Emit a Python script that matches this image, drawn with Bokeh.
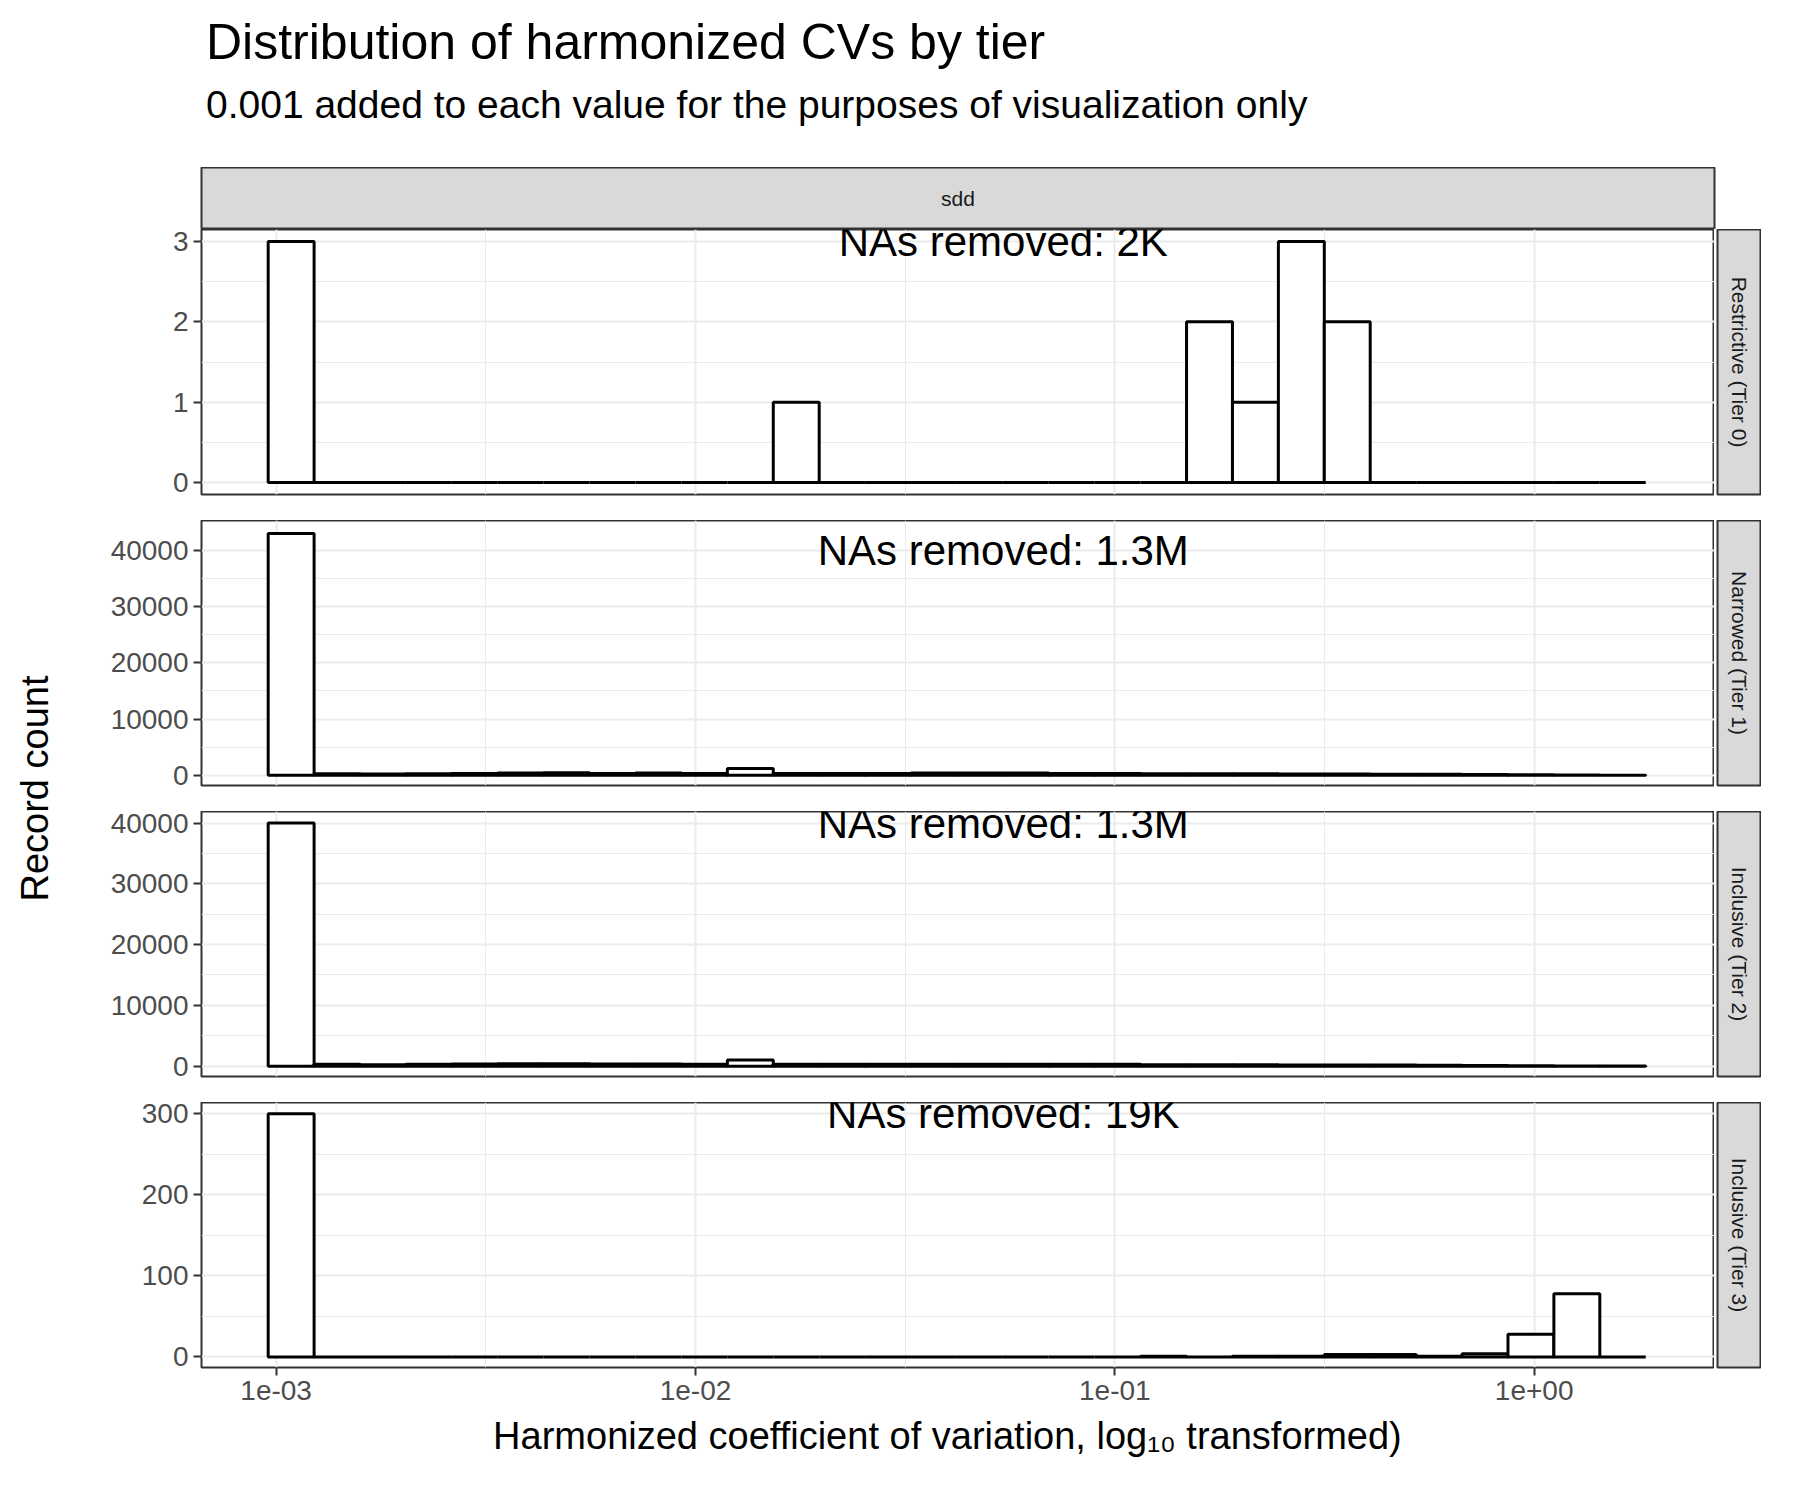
import numpy as np
from bokeh.plotting import figure
from bokeh.layouts import column, row
from bokeh.models import Range1d, FixedTicker, Label, Div
from bokeh.core.properties import value
from bokeh.embed import file_html
from bokeh.resources import INLINE

FONT = "Liberation Sans"

# log10 bin edges of the histogram (30 bins)
bin_start = -3.019
bin_width = 0.1095
n_bins = 30

tiers = ["Restrictive (Tier 0)", "Narrowed (Tier 1)", "Inclusive (Tier 2)", "Inclusive (Tier 3)"]
na_labels = ["NAs removed: 2K", "NAs removed: 1.3M", "NAs removed: 1.3M", "NAs removed: 19K"]
label_y = [3, 40000, 40000, 300]

counts_t0 = [3, 0, 0, 0, 0, 0, 0, 0, 0, 0, 0, 1, 0, 0, 0, 0, 0, 0, 0, 0,
             2, 1, 3, 2, 0, 0, 0, 0, 0, 0]
counts_t1 = [43000, 300, 250, 300, 350, 400, 450, 350, 400, 350, 1200, 350, 350, 350, 400, 400,
             400, 350, 350, 300, 300, 300, 250, 250, 200, 200, 150, 100, 50, 20]
counts_t2 = [40000, 300, 250, 300, 350, 400, 400, 350, 350, 300, 1000, 300, 300, 300, 300, 300,
             300, 300, 300, 250, 250, 250, 200, 200, 200, 150, 120, 80, 40, 20]
counts_t3 = [300, 0, 0, 0, 0, 0, 0, 0, 0, 0, 0, 0, 0, 0, 0, 0, 0, 0, 0, 1,
             0, 1, 1, 3, 3, 1, 4, 28, 78, 0]
all_counts = [counts_t0, counts_t1, counts_t2, counts_t3]

y_ranges = [(-0.15, 3.15), (-1800, 45300), (-1700, 41900), (-13, 314)]
y_ticks = [[0, 1, 2, 3], [0, 10000, 20000, 30000, 40000], [0, 10000, 20000, 30000, 40000], [0, 100, 200, 300]]
y_minor = [[0.5, 1.5, 2.5], [5000, 15000, 25000, 35000], [5000, 15000, 25000, 35000], [50, 150, 250]]

x_ticks = [1e-3, 1e-2, 1e-1, 1e0]
x_tick_labels = {1e-3: "1e-03", 1e-2: "1e-02", 1e-1: "1e-01", 1e0: "1e+00"}
x_minor = [10 ** -2.5, 10 ** -1.5, 10 ** -0.5, 10 ** 0.5]

FW, FH = 1513, 265
LEFT = 141
x_range = Range1d(10 ** -3.178, 10 ** 0.43)

edges = bin_start + bin_width * np.arange(n_bins + 1)
lefts = 10 ** edges[:-1]
rights = 10 ** edges[1:]

rows = []
# top strip
top = figure(frame_width=FW, frame_height=62, x_range=(0, 1), y_range=(0, 1),
             x_axis_location=None, y_axis_location=None, toolbar_location=None,
             output_backend="svg", min_border_left=LEFT, min_border_right=47,
             min_border_top=0, min_border_bottom=0)
top.background_fill_color = "#D9D9D9"
top.outline_line_color = "#333333"
top.outline_line_width = 2
top.grid.visible = False
top.text(x=[0.5], y=[0.5], text=["sdd"], text_align="center", text_baseline="middle",
         text_font=value(FONT), text_font_size="21px", text_color="#1A1A1A")
rows.append(top)

for i, tier in enumerate(tiers):
    last = i == len(tiers) - 1
    p = figure(frame_width=FW, frame_height=FH, x_axis_type="log", x_range=x_range,
               y_range=Range1d(*y_ranges[i]), toolbar_location=None, output_backend="svg",
               min_border_left=LEFT, min_border_right=0, min_border_top=0,
               min_border_bottom=10 if last else 26)
    p.quad(left=lefts, right=rights, bottom=0, top=all_counts[i],
           fill_color="white", line_color="black", line_width=3)
    p.add_layout(Label(x=10 ** -1.266, y=label_y[i], text=na_labels[i], text_align="center",
                       text_baseline="middle", text_font=FONT, text_font_size="42px",
                       text_color="black"))
    p.xaxis.ticker = FixedTicker(ticks=x_ticks, minor_ticks=x_minor)
    p.yaxis.ticker = FixedTicker(ticks=y_ticks[i], minor_ticks=y_minor[i])
    p.xaxis.major_label_overrides = x_tick_labels
    for ax in (p.xaxis, p.yaxis):
        ax.major_label_text_font = FONT
        ax.major_label_text_font_size = "28px"
        ax.major_label_text_color = "#4D4D4D"
        ax.major_tick_line_color = "#333333"
        ax.major_tick_line_width = 2
        ax.major_tick_out = 8
        ax.major_tick_in = 0
        ax.minor_tick_line_color = None
        ax.axis_line_color = None
    p.grid.grid_line_color = "#EBEBEB"
    p.grid.grid_line_width = 2
    p.grid.minor_grid_line_color = "#EBEBEB"
    p.grid.minor_grid_line_width = 1
    p.outline_line_color = "#333333"
    p.outline_line_width = 2
    if last:
        p.xaxis.axis_label = "Harmonized coefficient of variation,  log\u2081\u2080  transformed)"
        p.xaxis.axis_label_text_font = FONT
        p.xaxis.axis_label_text_font_size = "38px"
        p.xaxis.axis_label_text_font_style = "normal"
        p.xaxis.axis_label_text_color = "black"
        p.xaxis.axis_label_standoff = 12
    else:
        p.xaxis.visible = False

    s = figure(frame_width=44, frame_height=FH, x_range=(0, 1), y_range=(0, 1),
               x_axis_location=None, y_axis_location=None, toolbar_location=None,
               output_backend="svg", min_border_left=3, min_border_right=0,
               min_border_top=0, min_border_bottom=p.min_border_bottom)
    s.background_fill_color = "#D9D9D9"
    s.outline_line_color = "#333333"
    s.outline_line_width = 2
    s.grid.visible = False
    s.text(x=[0.5], y=[0.5], text=[tier], angle=-np.pi / 2, text_align="center",
           text_baseline="middle", text_font=value(FONT), text_font_size="21px",
           text_color="#1A1A1A")
    rows.append(row(p, s, spacing=0, align="start"))

heading = Div(text=(
    f'<div style="font-family:{FONT};padding-left:141px;">'
    '<div style="font-size:50px;color:black;margin-top:10px;line-height:1.1;">Distribution of harmonized CVs by tier</div>'
    '<div style="font-size:39px;color:black;margin-top:14px;line-height:1.1;">0.001 added to each value for the purposes of visualization only</div>'
    '</div>'), width=1720, height=157)

H = 1480
ylab = figure(frame_width=60, frame_height=H, x_range=(0, 60), y_range=(0, H),
              x_axis_location=None, y_axis_location=None, toolbar_location=None,
              output_backend="svg", min_border=0)
ylab.outline_line_color = None
ylab.grid.visible = False
ylab.text(x=[34], y=[H - 788], text=["Record count"], angle=np.pi / 2, text_align="center",
          text_baseline="middle", text_font=value(FONT), text_font_size="38px", text_color="black")

main = column([heading] + rows, spacing=0)
layout = row(ylab, main, spacing=0)

open("out.html", "w").write(file_html(layout, INLINE))
